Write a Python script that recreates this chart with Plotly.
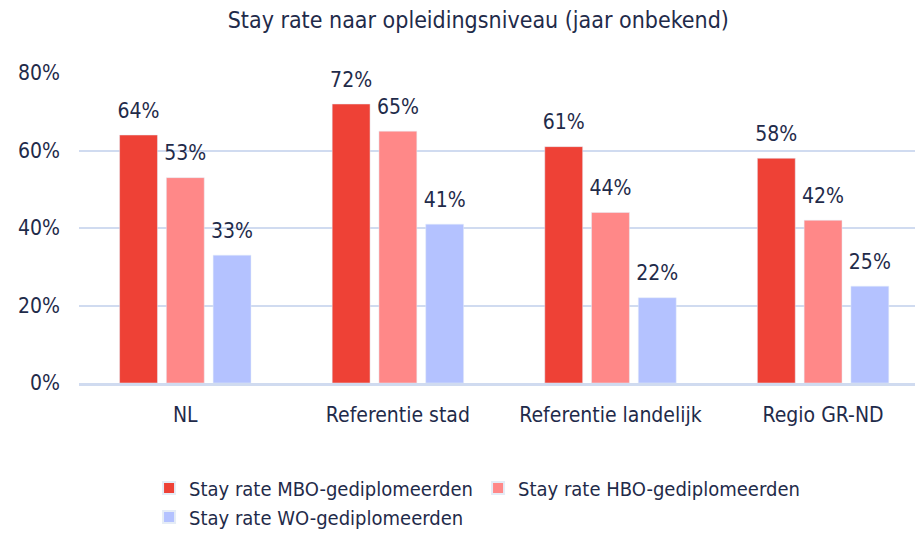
import plotly.graph_objects as go

categories = ["NL", "Referentie stad", "Referentie landelijk", "Regio GR-ND"]
mbo = [64, 72, 61, 58]
hbo = [53, 65, 44, 42]
wo = [33, 41, 22, 25]
series_names = ["Stay rate MBO-gediplomeerden", "Stay rate HBO-gediplomeerden", "Stay rate WO-gediplomeerden"]
colors = ["#EE4136", "#FF8888", "#B4C2FF"]
y_ticks = [0, 20, 40, 60, 80]

FONT = "DejaVu Sans Condensed, Roboto, sans-serif"
TXT = "#1F2B4A"
GRID = "#D0DBF0"
FS = 21
GAP = 0.34

fig = go.Figure()
for name, vals, col in zip(series_names, [mbo, hbo, wo], colors):
    fig.add_trace(go.Bar(
        x=categories, y=vals, name=name, marker_color=col,
    ))
for name, vals in zip(series_names, [mbo, hbo, wo]):
    fig.add_trace(go.Scatter(
        x=categories, y=vals, mode="markers+text", showlegend=False, hoverinfo="skip",
        marker=dict(size=18, opacity=0), text=[f"{v}%" for v in vals], textposition="top center",
        textfont=dict(size=FS, color=TXT, family=FONT), cliponaxis=False,
    ))

fig.update_layout(
    width=915, height=529,
    margin=dict(l=71, r=0, t=65, b=154, autoexpand=False),
    paper_bgcolor="white", plot_bgcolor="white",
    barmode="group", bargap=GAP, bargroupgap=0.19,
    scattermode="group", scattergap=GAP,
    title=dict(text="Stay rate naar opleidingsniveau (jaar onbekend)", x=0.514, xanchor="center",
               xref="container", y=0.977, yanchor="middle", font=dict(size=23, color=TXT, family=FONT)),
    font=dict(family=FONT, color=TXT, size=FS),
    showlegend=True,
    legend=dict(orientation="h", x=0.083, xanchor="left", yref="container", y=0.1295, yanchor="top",
                font=dict(size=20, color=TXT, family=FONT), entrywidth=284, entrywidthmode="pixels",
                itemsizing="constant", tracegroupgap=0),
)
fig.update_xaxes(range=[-0.5, 3.47], showgrid=False, showline=True, linecolor=GRID, linewidth=2.5,
                 ticks="", ticklabelstandoff=11, automargin=False,
                 tickfont=dict(size=FS, color=TXT, family=FONT))
fig.update_yaxes(range=[0, 80], tickvals=y_ticks, ticktext=[f"{v}%" for v in y_ticks],
                 showgrid=True, gridcolor=GRID, gridwidth=2, zeroline=False,
                 ticks="", ticklabelstandoff=18, automargin=False,
                 tickfont=dict(size=FS, color=TXT, family=FONT))

fig.write_html("out.html")
